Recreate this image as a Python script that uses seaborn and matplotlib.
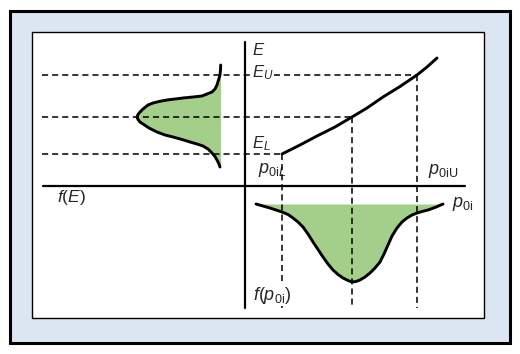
import matplotlib
matplotlib.use("Agg")
import matplotlib.pyplot as plt
from matplotlib.patches import Rectangle
import seaborn as sns

# Schematic in pixel-like units, origin at the axis crossing, y pointing up.
# E(p) mapping curve
p_curve = [37, 55, 72, 90, 107, 122, 138, 155, 172, 182, 192]
E_curve = [32, 41, 50, 59, 69, 78, 89, 99.5, 111, 119, 128]

# key levels
E_levels = [32, 69, 111]        # E_L, centre, E_U
p_levels = [37, 107, 172]       # p0iL, centre, p0iU

# f(E) density drawn to the left of the E axis
fE_x = [-24.3, -24.5, -25, -26.5, -28, -30, -33, -38, -43, -52, -62, -70, -78,
        -86, -92, -97, -102, -105, -107, -108, -107, -105, -102, -96, -88, -80,
        -72, -63, -55, -48, -42, -37, -33, -30, -28, -26, -25]
fE_y = [121, 116, 111, 106, 101, 97, 94, 92, 90, 89, 88, 87, 86,
        84.5, 83, 81, 77, 74, 71.5, 69, 66.5, 64, 62, 58, 54, 51,
        49, 46.5, 44, 42, 40, 37, 33, 29.5, 26, 22, 19]
fE_base = -24.5

# f(p0i) density drawn below the p axis
fp_x = [11, 18, 25, 31, 37, 43, 48, 53, 58, 63, 68, 73, 78, 83, 88, 93, 98,
        103, 107, 111, 115, 120, 125, 130, 135, 139, 143, 147, 152, 157, 162,
        167, 172, 177, 183, 190, 198]
fp_y = [-18, -20, -22, -24, -26, -28.5, -32, -36, -41, -48, -56, -63.5, -71,
        -78, -84, -88.5, -92, -94.5, -96, -95.5, -94, -91, -87, -82, -76, -68,
        -59, -50, -42, -36, -32, -29, -27, -25.5, -24, -21.5, -18]
fp_base = -18

GREEN = "#a3cf8b"
BLUE = "#dce6f2"

sns.set_theme(style="white")
plt.rcParams["font.family"] = ["Liberation Sans", "DejaVu Sans"]
plt.rcParams["mathtext.fontset"] = "custom"
plt.rcParams["mathtext.rm"] = "Liberation Sans"
plt.rcParams["mathtext.it"] = "Liberation Sans:italic"

fig = plt.figure(figsize=(5.2, 3.54), dpi=100)
ax = fig.add_axes([0, 0, 1, 1])
ax.set_xlim(-245, 275)
ax.set_ylim(-168, 186)
ax.axis("off")

# frames
ax.add_patch(Rectangle((-235, -157), 500, 332, facecolor=BLUE, edgecolor="black", lw=2.2, zorder=0))
ax.add_patch(Rectangle((-213, -132), 452, 286, facecolor="white", edgecolor="black", lw=1.0, zorder=1))

# axes lines
ax.plot([-202, 220], [0, 0], color="black", lw=1.6, zorder=3)
ax.plot([0, 0], [-122, 144], color="black", lw=1.6, zorder=3)

# dashed guide lines
dash = dict(color="black", lw=1.1, ls=(0, (4, 2.6)), zorder=4)
for e, p in zip(E_levels, p_levels):
    ax.plot([-203, p], [e, e], **dash)
    ax.plot([p, p], [e, -122], **dash)

# fills
ax.fill_betweenx(fE_y, fE_x, fE_base, color=GREEN, lw=0, zorder=2)
ax.fill_between(fp_x, fp_y, fp_base, where=[y <= fp_base for y in fp_y],
                color=GREEN, lw=0, zorder=2)

# curves
line_kw = dict(sort=False, estimator=None, color="black", lw=2.1, ax=ax, zorder=5)
sns.lineplot(x=p_curve, y=E_curve, **line_kw)
sns.lineplot(x=fE_x, y=fE_y, **line_kw)
sns.lineplot(x=fp_x, y=fp_y, **line_kw)
for ln in ax.lines[-3:]:
    ln.set_solid_joinstyle("round")
    ln.set_solid_capstyle("round")

# labels
box = dict(facecolor="white", edgecolor="none", pad=0.3)
ax.text(7, 131, "$E$", fontsize=12, va="baseline", zorder=6)
ax.text(7, 109, "$E_U$", fontsize=12, va="baseline", zorder=6, bbox=box)
ax.text(7, 38, "$E_L$", fontsize=12, va="baseline", zorder=6, bbox=box)
ax.text(13, 13, r"$p_{0\mathrm{i}L}$", fontsize=13, va="baseline", zorder=3)
ax.text(183, 12, r"$p_{0\mathrm{iU}}$", fontsize=13, va="baseline", zorder=6)
ax.text(207, -21, r"$p_{0\mathrm{i}}$", fontsize=13, va="baseline", zorder=6)
ax.text(-188, -16, r"$f(E)$", fontsize=12.5, va="baseline", zorder=6)
ax.text(8, -114, r"$f(p_{0\mathrm{i}})$", fontsize=13, va="baseline", zorder=6, bbox=box)

fig.savefig("out.png", dpi=100)
